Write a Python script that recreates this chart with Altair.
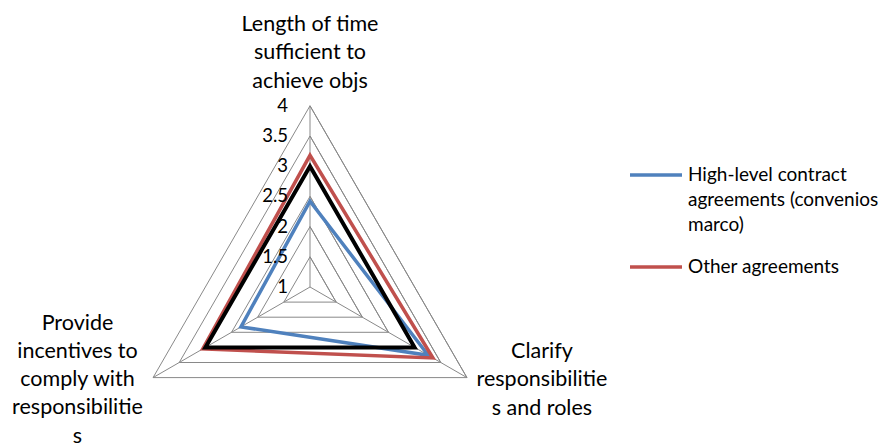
import altair as alt
import pandas as pd

# ---------------- data ----------------
categories = [
    "Length of time sufficient to achieve objs",
    "Clarify responsibilities and roles",
    "Provide incentives to comply with responsibilities",
]
category_lines = [
    ["Length of time", "sufficient to", "achieve objs"],
    ["Clarify", "responsibilitie", "s and roles"],
    ["Provide", "incentives to", "comply with", "responsibilitie", "s"],
]
series_names = ["High-level contract agreements (convenios marco)", "Other agreements"]
legend_lines = [["High-level contract", "agreements (convenios", "marco)"], ["Other agreements"]]
high_level = [2.42, 3.26, 2.32]
other = [3.18, 3.35, 3.05]
benchmark = [3.0, 3.0, 3.0]
ticks = [1, 1.5, 2, 2.5, 3, 3.5, 4]
tick_labels = ["1", "1.5", "2", "2.5", "3", "3.5", "4"]

# ---------------- layout / style ----------------
BLUE, RED, BLACK, GRID = "#4F81BD", "#C0504D", "#000000", "#898989"
FONT = "Lato"
W, H = 876, 437
CX, CY = 302, 279      # radar centre inside plot area (px)
K = 60.4               # px per value unit
RMIN, RMAX = ticks[0], ticks[-1]
N = len(categories)

xs = alt.Scale(domain=[-CX / K, (W - CX) / K], nice=False, zero=False)
ys = alt.Scale(domain=[(CY - H) / K, CY / K], nice=False, zero=False)


def polar(chart, vfield="value", px="px", py="py"):
    return chart.transform_calculate(
        theta=f"PI/2 - datum.idx*2*PI/{N}"
    ).transform_calculate(
        **{px: f"(datum.{vfield} - {RMIN})*cos(datum.theta)",
           py: f"(datum.{vfield} - {RMIN})*sin(datum.theta)"}
    )


def XE(f="px"):
    return alt.X(f"{f}:Q", scale=xs, axis=None)


def YE(f="py"):
    return alt.Y(f"{f}:Q", scale=ys, axis=None)


# grid rings (closed, repeat two points so all corners are joined)
ring_rows = []
for t in ticks[1:]:
    for k in range(N + 2):
        ring_rows.append({"ring": t, "k": k, "idx": k % N, "value": t})
rings = polar(alt.Chart(pd.DataFrame(ring_rows))).mark_line(
    color=GRID, strokeWidth=1, strokeJoin="miter"
).encode(x=XE(), y=YE(), detail="ring:N", order="k:Q")

# spokes
spoke_df = pd.DataFrame({"idx": list(range(N)), "v0": [RMIN] * N, "v1": [RMAX] * N})
spokes = polar(polar(alt.Chart(spoke_df), "v0", "x0", "y0"), "v1", "x1", "y1").mark_rule(
    color=GRID, strokeWidth=1
).encode(x=XE("x0"), y=YE("y0"), x2="x1:Q", y2="y1:Q")

# tick labels along first axis
tick_df = pd.DataFrame({"idx": [0] * len(ticks), "value": ticks, "label": tick_labels})
tick_text = polar(alt.Chart(tick_df)).mark_text(
    align="right", baseline="middle", dx=-22, font=FONT, fontSize=18.5, color="#000000"
).encode(x=XE(), y=YE(), text="label:N")

# category labels (anchor = first line)
cat_df = pd.DataFrame({
    "idx": list(range(N)),
    "value": [RMAX] * N,
    "label": ["\n".join(l) for l in category_lines],
})
offsets = [(0, -80.7), (75, -25.5), (-75.6, -54)]
cat_layers = []
for i, (ddx, ddy) in enumerate(offsets):
    cat_layers.append(
        polar(alt.Chart(cat_df)).transform_filter(f"datum.idx == {i}").mark_text(
            align="center", baseline="middle", dx=ddx, dy=ddy, font=FONT, fontSize=21.5,
            lineBreak="\n", lineHeight=28.3, color="#000000"
        ).encode(x=XE(), y=YE(), text="label:N")
    )

# series
rows = []
for name, vals in zip(series_names, [high_level, other]):
    for k in range(N + 2):
        rows.append({"series": name, "k": k, "idx": k % N, "value": vals[k % N]})
series_df = pd.DataFrame(rows)

label_expr = (
    f"datum.label == '{series_names[0]}' ? "
    + str(legend_lines[0])
    + f" : '{legend_lines[1][0]}'"
)

series_lines = polar(alt.Chart(series_df)).mark_line(
    strokeWidth=3.5, strokeJoin="miter"
).encode(
    x=XE(), y=YE(), order="k:Q",
    color=alt.Color(
        "series:N",
        scale=alt.Scale(domain=series_names, range=[BLUE, RED]),
        legend=alt.Legend(
            title=None, orient="none", legendX=620, legendY=139, padding=0,
            symbolType="stroke", symbolSize=2704, symbolStrokeWidth=3.5,
            labelFont=FONT, labelFontSize=19, labelColor="#000000", labelLimit=500,
            labelOffset=4, labelBaseline="middle", labelExpr=label_expr, rowPadding=4,
        ),
    ),
)

bench_rows = [{"k": k, "idx": k % N, "value": benchmark[k % N]} for k in range(N + 2)]
bench_line = polar(alt.Chart(pd.DataFrame(bench_rows))).mark_line(
    strokeWidth=4, strokeJoin="miter", color=BLACK
).encode(x=XE(), y=YE(), order="k:Q")

chart = alt.layer(
    rings, spokes, series_lines, bench_line, tick_text, *cat_layers
).properties(
    width=W, height=H, padding=0, autosize=alt.AutoSizeParams(type="none"),
    background="white",
).configure(
    style={"guide-label": {"lineHeight": 25}},
    view=alt.ViewConfig(strokeWidth=0, stroke=None),
)

chart.save("out.html", embed_options={"renderer": "svg", "actions": False})
